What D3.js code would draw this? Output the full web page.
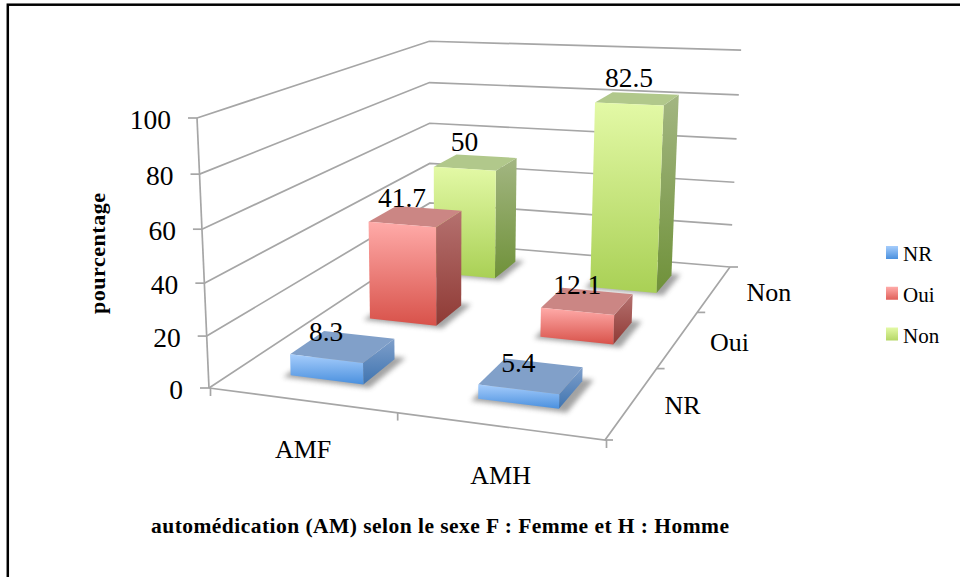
<!DOCTYPE html>
<html><head><meta charset="utf-8">
<script src="https://cdn.jsdelivr.net/npm/d3@7"></script>
<style>html,body{margin:0;padding:0;background:#fff}svg{display:block}text{font-family:"Liberation Serif",serif;fill:#000}</style>
</head><body><div id="chart"></div>
<script>
const categories = ["AMF", "AMH"];
const seriesNames = ["NR", "Oui", "Non"];
const valuesNR = [8.3, 5.4];
const valuesOui = [41.7, 12.1];
const valuesNon = [50, 82.5];
const valueTicks = [0, 20, 40, 60, 80, 100];
const xAxisTitle = "automédication (AM) selon le sexe F : Femme et H : Homme";
const yAxisTitle = "pourcentage";

const seriesValues = [valuesNR, valuesOui, valuesNon];
const W = 960, H = 577;
const svg = d3.select("#chart").append("svg").attr("width", W).attr("height", H);
const defs = svg.append("defs");
defs.append("filter").attr("id","blur").attr("x","-30%").attr("y","-30%").attr("width","160%").attr("height","160%")
  .append("feGaussianBlur").attr("stdDeviation", 2.5);

const palette = [
 {front:["#a6cdfc","#4a90de"], side:["#7f9fca","#3f74b0"], top:"#81a0c9", legend:["#a6cdfc","#4a90de"]},
 {front:["#ffaba9","#d8524a"], side:["#b5716f","#8f3a35"], top:"#cb8684", legend:["#ffaba9","#e0605a"]},
 {front:["#e3f9a6","#a9d055"], side:["#a3b682","#6f9139"], top:"#b1c88b", legend:["#e3f9a6","#b5d766"]}
];
palette.forEach((p,i)=>{
  [["front",p.front],["side",p.side],["legend",p.legend]].forEach(([k,c])=>{
    const g = defs.append("linearGradient").attr("id",k+i).attr("x1",0).attr("x2",0).attr("y1",0).attr("y2",1);
    g.append("stop").attr("offset",0).attr("stop-color",c[0]);
    g.append("stop").attr("offset",1).attr("stop-color",c[1]);
  });
});

// frame
svg.append("rect").attr("x",7.8).attr("y",4.7).attr("width",W+20).attr("height",H+20)
  .attr("fill","none").attr("stroke","#000").attr("stroke-width",2.5);

// 3D projection: floor homography + vertical vanishing point
const A=[209,388], B=[605,440], C=[730,267], D=[430,242];
function homography(p0,p1,p2,p3){ // unit square (0,0),(1,0),(1,1),(0,1)
  const dx1=p1[0]-p2[0],dx2=p3[0]-p2[0],sx=p0[0]-p1[0]+p2[0]-p3[0];
  const dy1=p1[1]-p2[1],dy2=p3[1]-p2[1],sy=p0[1]-p1[1]+p2[1]-p3[1];
  const det=dx1*dy2-dx2*dy1;
  const g=(sx*dy2-dx2*sy)/det, h=(dx1*sy-sx*dy1)/det;
  return [[p1[0]-p0[0]+g*p1[0],p3[0]-p0[0]+h*p3[0],p0[0]],
          [p1[1]-p0[1]+g*p1[1],p3[1]-p0[1]+h*p3[1],p0[1]],
          [g,h,1]];
}
const Hm = homography(A,B,C,D);
const vp=[448,5773];
const topLeftY = 118;
const k = (topLeftY-A[1])/(vp[1]-topLeftY);
function project(x,d,h){
  const X=Hm[0][0]*x+Hm[0][1]*d+Hm[0][2]+k*vp[0]*h;
  const Y=Hm[1][0]*x+Hm[1][1]*d+Hm[1][2]+k*vp[1]*h;
  const Z=Hm[2][0]*x+Hm[2][1]*d+Hm[2][2]+k*h;
  return [X/Z,Y/Z];
}
const xBand = d3.scaleBand().domain(categories).range([0,1]).paddingInner(0.6).paddingOuter(0.3);
const xStep = d3.scaleBand().domain(categories).range([0,1]);
const dBand = d3.scaleBand().domain(seriesNames).range([0,1]).paddingInner(0.6).paddingOuter(0.3);
const dStep = d3.scaleBand().domain(seriesNames).range([0,1]);
const yScale = d3.scaleLinear().domain([0,100]).range([0,1]);
const line = d3.line();
const poly = pts => line(pts)+"Z";
const gridColor = "#a6a6a6";

// gridlines
const grid = svg.append("g").attr("fill","none").attr("stroke",gridColor).attr("stroke-width",1.7);
valueTicks.forEach(v=>{
  const h=yScale(v);
  grid.append("path").attr("d",line([project(0,0,h),project(0,1,h),project(1,1,h)]));
});
grid.append("path").attr("d",line([project(0,0,0),project(0,0,1)]));
grid.append("path").attr("d",line([project(0,0,0),project(1,0,0),project(1,1,0)]));
// ticks
valueTicks.forEach(v=>{
  const p=project(0,0,yScale(v));
  grid.append("path").attr("d",line([[p[0]-9,p[1]],p]));
  svg.append("text").attr("x",p[0]-26).attr("y",p[1]+10.5).attr("text-anchor","end").attr("font-size",27.5).text(v);
});
[0,0.5,1].forEach(t=>{
  const p=project(t,0,0);
  grid.append("path").attr("d",line([[p[0]+1.5,p[1]],[p[0]+1.5,p[1]+8]]));
});
[0,1/3,2/3,1].forEach(t=>{
  const p=project(1,t,0);
  grid.append("path").attr("d",line([p,[p[0]+8,p[1]]]));
});

// bars: back row first
const barsG = svg.append("g");
const labels = [];
for(let si=seriesNames.length-1;si>=0;si--){
  categories.forEach((cat,ci)=>{
    const v=seriesValues[si][ci], x0=xBand(cat), x1=x0+xBand.bandwidth();
    const d0=dBand(seriesNames[si]), d1=d0+dBand.bandwidth(), h=yScale(v);
    const g=barsG.append("g");
    const m=0.012;
    g.append("path").attr("d",poly([project(x0-m,d0-m,0),project(x1+m*2,d0-m,0),project(x1+m*2,d1+m,0),project(x0-m,d1+m,0)]))
      .attr("fill","#666").attr("opacity",0.6).attr("filter","url(#blur)");
    g.append("path").attr("d",poly([project(x1,d0,0),project(x1,d1,0),project(x1,d1,h),project(x1,d0,h)])).attr("fill",`url(#side${si})`);
    g.append("path").attr("d",poly([project(x0,d0,h),project(x1,d0,h),project(x1,d1,h),project(x0,d1,h)])).attr("fill",palette[si].top);
    g.append("path").attr("d",poly([project(x0,d0,0),project(x1,d0,0),project(x1,d0,h),project(x0,d0,h)])).attr("fill",`url(#front${si})`);
    labels.push({v,p:project((x0+x1)/2,d0,h)});
  });
}
// value labels
svg.append("g").selectAll("text").data(labels).join("text")
  .attr("x",d=>d.p[0]).attr("y",d=>d.p[1]-17.5).attr("text-anchor","middle").attr("font-size",27.5).text(d=>d.v);

// category labels
categories.forEach(c=>{
  const p=project(xStep(c)+xStep.bandwidth()/2,0,0);
  svg.append("text").attr("x",p[0]+3).attr("y",p[1]+58).attr("text-anchor","middle").attr("font-size",26).text(c);
});
seriesNames.forEach(s=>{
  const p=project(1,dStep(s)+dStep.bandwidth()/2,0);
  svg.append("text").attr("x",p[0]+32).attr("y",p[1]+12).attr("font-size",26).text(s);
});

// titles
svg.append("text").attr("x",151).attr("y",533).attr("font-size",21.5).attr("font-weight","bold")
  .attr("textLength",578).attr("lengthAdjust","spacing").text(xAxisTitle);
svg.append("text").attr("transform","translate(105,314) rotate(-90)").attr("font-size",22).attr("font-weight","bold")
  .attr("textLength",121).attr("lengthAdjust","spacing").text(yAxisTitle);

// legend
const legendY = d3.scalePoint().domain(seriesNames).range([252.5,334]);
seriesNames.forEach((s,i)=>{
  const y=legendY(s);
  svg.append("rect").attr("x",886).attr("y",y-6.5).attr("width",12).attr("height",13).attr("fill",`url(#legend${i})`);
  svg.append("text").attr("x",903).attr("y",y+8.5).attr("font-size",21).text(s);
});
</script></body></html>
